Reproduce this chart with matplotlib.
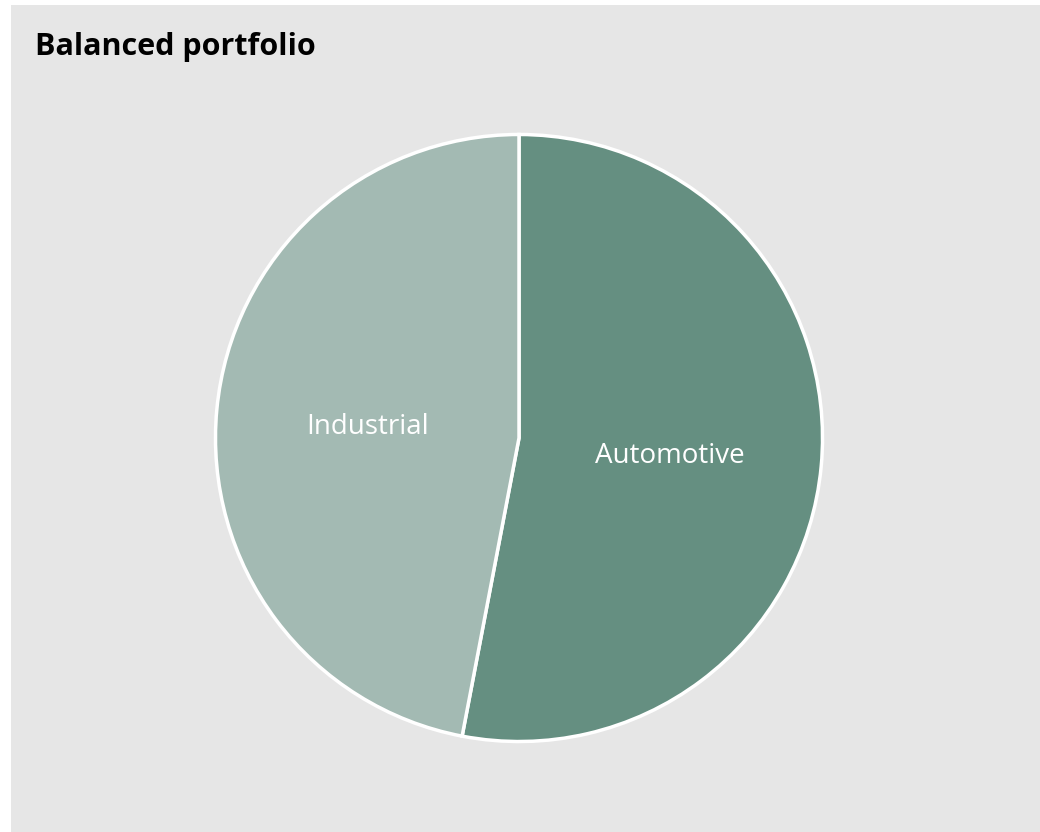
import matplotlib.pyplot as plt
from matplotlib.patches import Rectangle

labels = ["Automotive", "Industrial"]
shares = [53, 47]
colors = ["#658f81", "#a3bab3"]
title = "Balanced portfolio"

fig = plt.figure(figsize=(10.4, 8.32), dpi=100, facecolor="white")
fig.patches.append(Rectangle((11 / 1040, 0), 1 - 11 / 1040, 1 - 5 / 832,
                             transform=fig.transFigure, facecolor="#e6e6e6",
                             edgecolor="none", zorder=-5))

ax = fig.add_axes([217 / 1040, (832 - 740) / 832, 604 / 1040, 604 / 832])
ax.set_zorder(2)
wedges, texts = ax.pie(shares, labels=labels, colors=colors, startangle=90,
                       counterclock=False, labeldistance=0.5, radius=1,
                       wedgeprops=dict(edgecolor="white", linewidth=2.5),
                       textprops=dict(color="white", fontsize=20, family="Open Sans"))
for t in texts:
    t.set_ha("center")
    t.set_va("center_baseline")
ax.set_xlim(-0.995, 0.995)
ax.set_ylim(-0.995, 0.995)
ax.set_aspect("equal")

fig.text(35 / 1040, 1 - 55 / 832, title, fontsize=22, fontweight="bold",
         family="Open Sans", color="black", ha="left", va="baseline", zorder=3)

fig.savefig("out.png", dpi=100, facecolor="white")
